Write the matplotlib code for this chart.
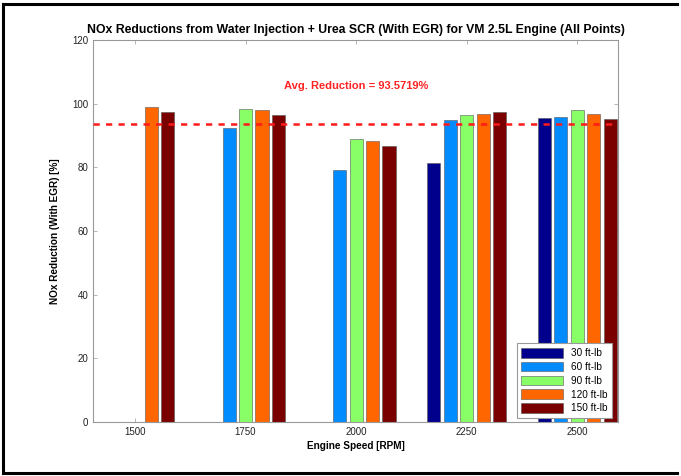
import numpy as np
import matplotlib
matplotlib.use("Agg")
import matplotlib.pyplot as plt
from matplotlib.lines import Line2D

plt.rcParams['font.family'] = ['Liberation Sans', 'DejaVu Sans']

speeds = ['1500', '1750', '2000', '2250', '2500']
series_names = ['30 ft-lb', '60 ft-lb', '90 ft-lb', '120 ft-lb', '150 ft-lb']
v30 = [np.nan, np.nan, np.nan, 81.3, 95.4]
v60 = [np.nan, 92.5, 79.2, 94.9, 95.7]
v90 = [np.nan, 98.2, 89.0, 96.4, 98.0]
v120 = [99.0, 98.0, 88.4, 96.7, 96.7]
v150 = [97.4, 96.5, 86.8, 97.3, 95.1]
avg_reduction = 93.5719
colors = ['#00008C', '#008CFF', '#88FF66', '#FF6600', '#7A0000']

values = [v30, v60, v90, v120, v150]

fig = plt.figure(figsize=(6.81, 4.76), dpi=100)
ax = fig.add_axes([0.1366, 0.1134, 0.7709, 0.8026])

x = np.arange(len(speeds))
step = 0.149
width = 0.118
for i, (vals, c, name) in enumerate(zip(values, colors, series_names)):
    ax.bar(x + (i - 2) * step, vals, width=width, color=c,
           edgecolor='#555555', linewidth=0.4, label=name, zorder=2)

ax.set_xlim(-0.38, 4.37)
ax.set_ylim(0, 120)
ax.set_xticks(x)
ax.set_xticklabels(speeds)
ax.set_yticks(np.arange(0, 121, 20))
ax.tick_params(direction='in', top=True, right=True, labelsize=7,
               length=3, width=0.5, colors='#999999', labelcolor='#222222')
for s in ax.spines.values():
    s.set_color('#999999')
    s.set_linewidth(0.8)

ax.axhline(avg_reduction, color='#FF1A1A', linestyle=(0, (2.5, 2.5)),
           linewidth=1.8, zorder=3)
ax.text(2, 105.6, 'Avg. Reduction = %.4f%%' % avg_reduction, color='#FF2222',
        fontsize=8, fontweight='bold', ha='center', va='center')

ax.set_title('NOx Reductions from Water Injection + Urea SCR (With EGR) for VM 2.5L Engine (All Points)',
             fontsize=8.8, fontweight='bold', pad=5)
ax.set_xlabel('Engine Speed [RPM]', fontsize=7.2, fontweight='bold', labelpad=3)
ax.set_ylabel('NOx Reduction (With EGR) [%]', fontsize=7.2, fontweight='bold', labelpad=9)

leg = ax.legend(loc='lower right', fontsize=7.2, frameon=True, fancybox=False,
                edgecolor='#999999', framealpha=1, handlelength=4.2,
                handleheight=1.1, labelspacing=0.36, borderpad=0.45,
                handletextpad=0.8, borderaxespad=0,
                bbox_to_anchor=(0.989, 0.011))
leg.get_frame().set_linewidth(0.8)
leg.set_zorder(5)

# outer frame
for xs, ys in [([0.004, 0.994], [0.992, 0.992]),
               ([0.004, 0.994], [0.007, 0.007]),
               ([0.004, 0.004], [0.007, 0.992])]:
    fig.add_artist(Line2D(xs, ys, transform=fig.transFigure, color='black', linewidth=2.2))

fig.savefig('out.png', dpi=100)
